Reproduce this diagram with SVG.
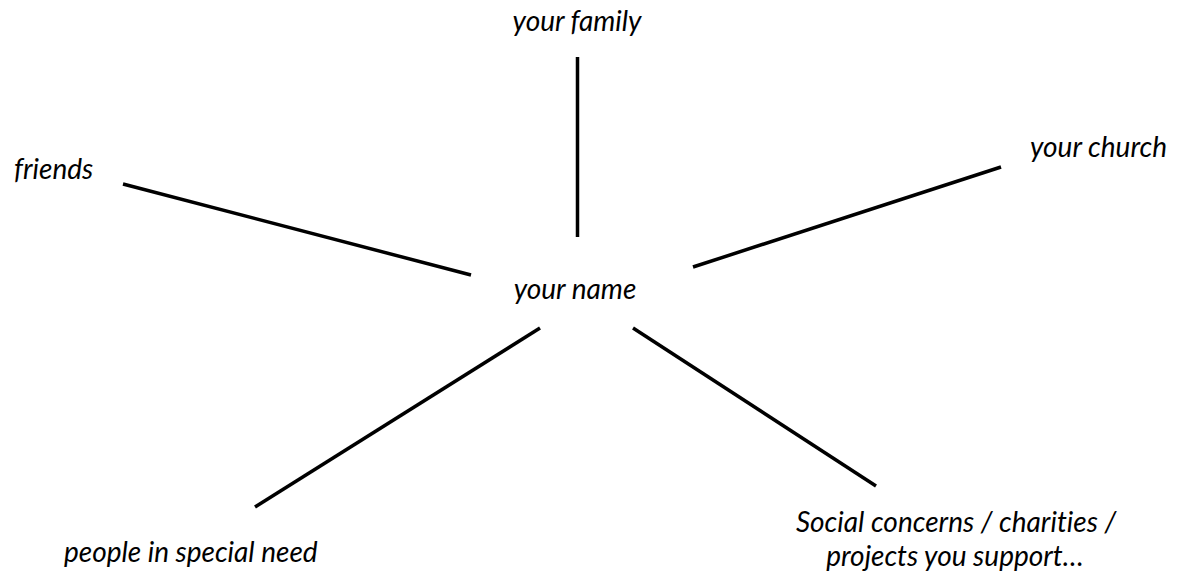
<svg xmlns="http://www.w3.org/2000/svg" width="1177" height="573" viewBox="0 0 1177 573">
<style>
.t{font-family:Lato,"Open Sans","Liberation Sans",sans-serif;font-style:italic;font-size:28px;fill:#000;font-variant-ligatures:none}
.c line{stroke:#000;stroke-width:3.5;stroke-linecap:butt}
</style>
<rect width="1177" height="573" fill="#fff"/>
<g id="connectors" class="c">
<line x1="577.5" y1="57" x2="577.5" y2="237"/>
<line x1="123" y1="184" x2="471" y2="275"/>
<line x1="693" y1="267" x2="1001" y2="167"/>
<line x1="255" y1="507" x2="540" y2="328"/>
<line x1="633" y1="328" x2="876" y2="486"/>
</g>
<g id="center"><text class="t" x="575" y="299" text-anchor="middle">your name</text></g>
<g id="family"><text class="t" x="577" y="31" text-anchor="middle">your family</text></g>
<g id="friends"><text class="t" x="14" y="179">friends</text></g>
<g id="church"><text class="t" x="1030" y="157">your church</text></g>
<g id="need"><text class="t" x="64" y="562">people in special need</text></g>
<g id="social"><text class="t" x="956" y="532" text-anchor="middle">Social concerns / charities /</text>
<text class="t" x="955" y="566" text-anchor="middle">projects you support…</text></g>
</svg>
